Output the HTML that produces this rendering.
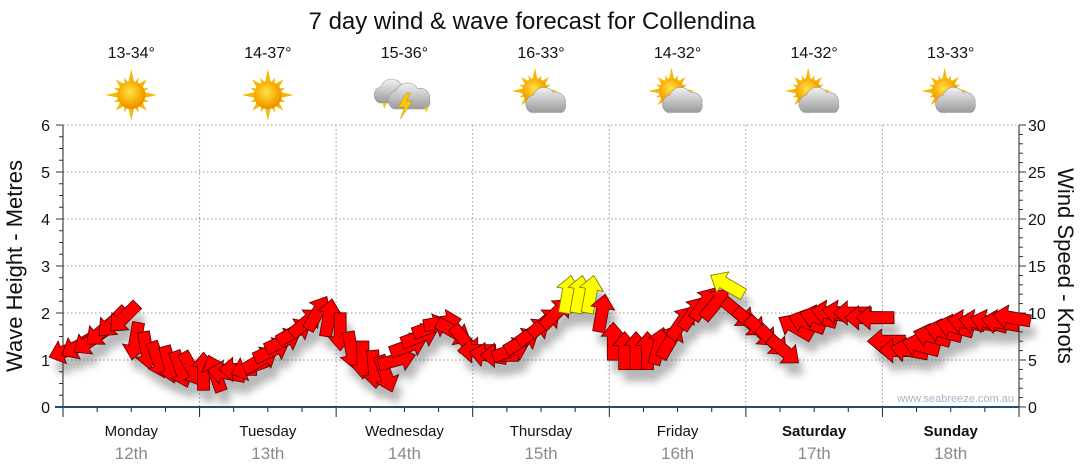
<!DOCTYPE html>
<html><head><meta charset="utf-8"><style>
body{margin:0;background:#fff;}
svg{display:block;font-family:"Liberation Sans",sans-serif;}
</style></head><body>
<svg id="chart" width="1080" height="475" viewBox="0 0 1080 475" xmlns="http://www.w3.org/2000/svg">
<defs>
<filter id="sh" x="-50%" y="-50%" width="200%" height="200%"><feGaussianBlur stdDeviation="4"/></filter>
<radialGradient id="sunG" cx="0.45" cy="0.4" r="0.6"><stop offset="0" stop-color="#ffe24a"/><stop offset="0.7" stop-color="#f7a800"/><stop offset="1" stop-color="#e88a00"/></radialGradient>
<linearGradient id="cloudG" x1="0" y1="0" x2="0" y2="1"><stop offset="0" stop-color="#f2f2f2"/><stop offset="1" stop-color="#9a9a9a"/></linearGradient>
<g id="sun"><g fill="#f6b800"><polygon points="0,-26 3,-12 -3,-12"/><polygon points="0,26 3,12 -3,12"/><polygon points="-26,0 -12,3 -12,-3"/><polygon points="26,0 12,3 12,-3"/><g transform="rotate(45)"><polygon points="0,-22 3,-12 -3,-12"/><polygon points="0,22 3,12 -3,12"/><polygon points="-22,0 -12,3 -12,-3"/><polygon points="22,0 12,3 12,-3"/></g><g transform="rotate(22.5)"><polygon points="0,-19 2,-12 -2,-12"/><polygon points="0,19 2,12 -2,12"/><polygon points="-19,0 -12,2 -12,-2"/><polygon points="19,0 12,2 12,-2"/></g><g transform="rotate(67.5)"><polygon points="0,-19 2,-12 -2,-12"/><polygon points="0,19 2,12 -2,12"/><polygon points="-19,0 -12,2 -12,-2"/><polygon points="19,0 12,2 12,-2"/></g></g><circle r="14" fill="url(#sunG)"/></g>
<g id="cloud"><path d="M-14,10 a8,8 0 0 1 2,-15 a10,10 0 0 1 18,-2 a8,8 0 0 1 10,9 a7,7 0 0 1 -3,8 z" fill="url(#cloudG)" stroke="#999" stroke-width="0.5"/></g>
</defs>
<text x="532" y="29" font-size="24" text-anchor="middle" fill="#111">7 day wind &amp; wave forecast for Collendina</text>
<g id="grid"></g>
<g id="axes"></g>
<g id="shadows" filter="url(#sh)" opacity="0.35"></g>
<g id="arrows"></g>
<g id="header"></g>
<text x="1014" y="402" font-size="11" text-anchor="end" fill="#a8b4c4">www.seabreeze.com.au</text>
<text transform="translate(22,266) rotate(-90)" font-size="22" text-anchor="middle" fill="#111">Wave Height - Metres</text>
<text transform="translate(1058,266) rotate(90)" font-size="22" text-anchor="middle" fill="#111">Wind Speed - Knots</text>
</svg>
<script>
const days=["Monday","Tuesday","Wednesday","Thursday","Friday","Saturday","Sunday"];
const dates=["12th","13th","14th","15th","16th","17th","18th"];
const temps=["13-34°","14-37°","15-36°","16-33°","14-32°","14-32°","13-33°"];
const icons=["sun","sun","storm","partly","partly","partly","partly"];
const waveTicks=[0,1,2,3,4,5,6];
const windTicks=[0,5,10,15,20,25,30];
// wind speed (knots), every 2 hours
const wind=[6,6.5,7,8,9,9.5,7,6,5,4.5,4,4,
 3.8,3.6,3.6,4,4.2,5,6,7,8,9,10,9.5,
 8,6,5,4,3.5,5,6.5,7.5,8.5,9,8,7,
 6,5.5,5.5,6,7,8,9,10,12,12,12,10,
 7,6,6,6,6.5,7,9,10,11,11,13,10,
 9,8,7,6,8.5,9,9.5,10,10,10,9.5,9.5,
 7,6,6,6.5,7.5,8,8.5,9,9,9,9,9.5];
// arrow heading (degrees, 0 = pointing right, counter-clockwise)
const heading=[200,210,215,220,225,225,260,280,290,285,290,300,
 90,110,170,180,200,30,25,25,30,40,60,80,
 270,280,270,275,290,15,20,20,20,10,330,310,
 180,170,180,20,30,35,40,45,80,80,80,80,
 90,90,90,90,75,60,55,55,55,50,150,320,
 320,315,315,320,150,160,165,170,170,180,180,180,
 180,180,170,165,165,165,165,170,170,165,170,170];

const X0=63,X1=1019,Y0=407,Y1=125;
const dayW=(X1-X0)/7;
const xHour=h=>X0+h*dayW/24;
const yWave=m=>Y0-(m/6)*(Y0-Y1);
const yWind=k=>Y0-(k/30)*(Y0-Y1);
const NS="http://www.w3.org/2000/svg";
function mk(tag,attrs,parent,text){const e=document.createElementNS(NS,tag);for(const k in attrs)e.setAttribute(k,attrs[k]);if(text!==undefined)e.textContent=text;parent.appendChild(e);return e;}
const grid=document.getElementById('grid'),axes=document.getElementById('axes');
waveTicks.forEach(m=>{
 if(m>0){const l=mk('line',{x1:X0,x2:X1,y1:yWave(m),y2:yWave(m),stroke:'#999','stroke-dasharray':'1.5,2.5','stroke-width':1},grid);
 
 }
 const t=mk('text',{x:50,y:yWave(m)+6,'font-size':16,'text-anchor':'end',fill:'#111'},axes,String(m));
 
 
});
for(let i=0;i<=24;i++){const y=yWave(i*0.25);mk('line',{x1:X0-(i%4?4:7),x2:X0,y1:y,y2:y,stroke:'#333'},axes);}
windTicks.forEach(k=>{
 const t=mk('text',{x:1028,y:yWind(k)+6,'font-size':16,fill:'#111'},axes,String(k));
 
 
});
for(let k=0;k<=30;k++){const y=yWind(k);mk('line',{x1:X1,x2:X1+(k%5?4:7),y1:y,y2:y,stroke:'#333'},axes);}
for(let d=1;d<7;d++){const x=X0+d*dayW;const l=mk('line',{x1:x,x2:x,y1:Y1,y2:Y0,stroke:'#999','stroke-dasharray':'1.5,2.5'},grid);
 
 }
for(let q=0;q<=28;q++){const x=X0+q*dayW/4;mk('line',{x1:x,x2:x,y1:Y0,y2:Y0+(q%4?5:10),stroke:'#222'},axes);}
mk('line',{x1:X0,x2:X0,y1:Y1,y2:Y0,stroke:'#222'},axes);
mk('line',{x1:X1,x2:X1,y1:Y1,y2:Y0,stroke:'#222'},axes);
mk('line',{x1:X0-8,x2:X1,y1:Y0,y2:Y0,stroke:'#1d4f73','stroke-width':2},axes);
days.forEach((d,i)=>{const cx=X0+(i+0.5)*dayW;const b=i>=5;
 const t=mk('text',{x:cx,y:436,'font-size':15,'text-anchor':'middle',fill:'#111','font-weight':b?'bold':'normal'},axes,d);
 
 
 const t2=mk('text',{x:cx,y:459,'font-size':17,'text-anchor':'middle',fill:'#8a8a8a'},axes,dates[i]);
 
 
});
const hdr=document.getElementById('header');
temps.forEach((t,i)=>{const cx=X0+(i+0.5)*dayW;
 const tt=mk('text',{x:cx,y:58,'font-size':16,'text-anchor':'middle',fill:'#111'},hdr,t);
 
 
 const g=mk('g',{transform:`translate(${cx},95)`},hdr);
 
 
 if(icons[i]==='sun'){mk('use',{href:'#sun'},g);}
 else if(icons[i]==='partly'){mk('use',{href:'#sun',transform:'translate(-6,-4) scale(0.9)'},g);mk('use',{href:'#cloud',transform:'translate(6,6) scale(1.15)'},g);}
 else{mk('use',{href:'#cloud',transform:'translate(-10,-3) scale(1.1)'},g);mk('use',{href:'#cloud',transform:'translate(6,2) scale(1.2)'},g);
  mk('polygon',{points:'2,-2 -6,12 0,12 -4,24 8,6 2,6 6,-2',fill:'#f6c800',stroke:'#c89000','stroke-width':0.5},g);
  mk('polygon',{points:'-22,8 -18,8 -20,14',fill:'#f6c800'},g);mk('polygon',{points:'20,12 24,12 22,18',fill:'#f6c800'},g);}
});
const shape="-19,-6 5,-6 5,-12 19,0 5,12 5,6 -19,6";
const sh=document.getElementById('shadows'),ar=document.getElementById('arrows');
wind.forEach((k,i)=>{const x=xHour(i*2)+4,y=yWind(k);const a=-heading[i];
 const s=mk('polygon',{points:shape,fill:'#333',transform:`translate(${x+5},${y+12}) rotate(${a})`},sh);
 
 
 const p=mk('polygon',{points:shape,fill:k>=11.5?'#ffff00':'#ff0000',stroke:k>=11.5?'#777700':'#550000','stroke-width':0.8,transform:`translate(${x},${y}) rotate(${a})`},ar);
 
 
});
</script>
</body></html>
